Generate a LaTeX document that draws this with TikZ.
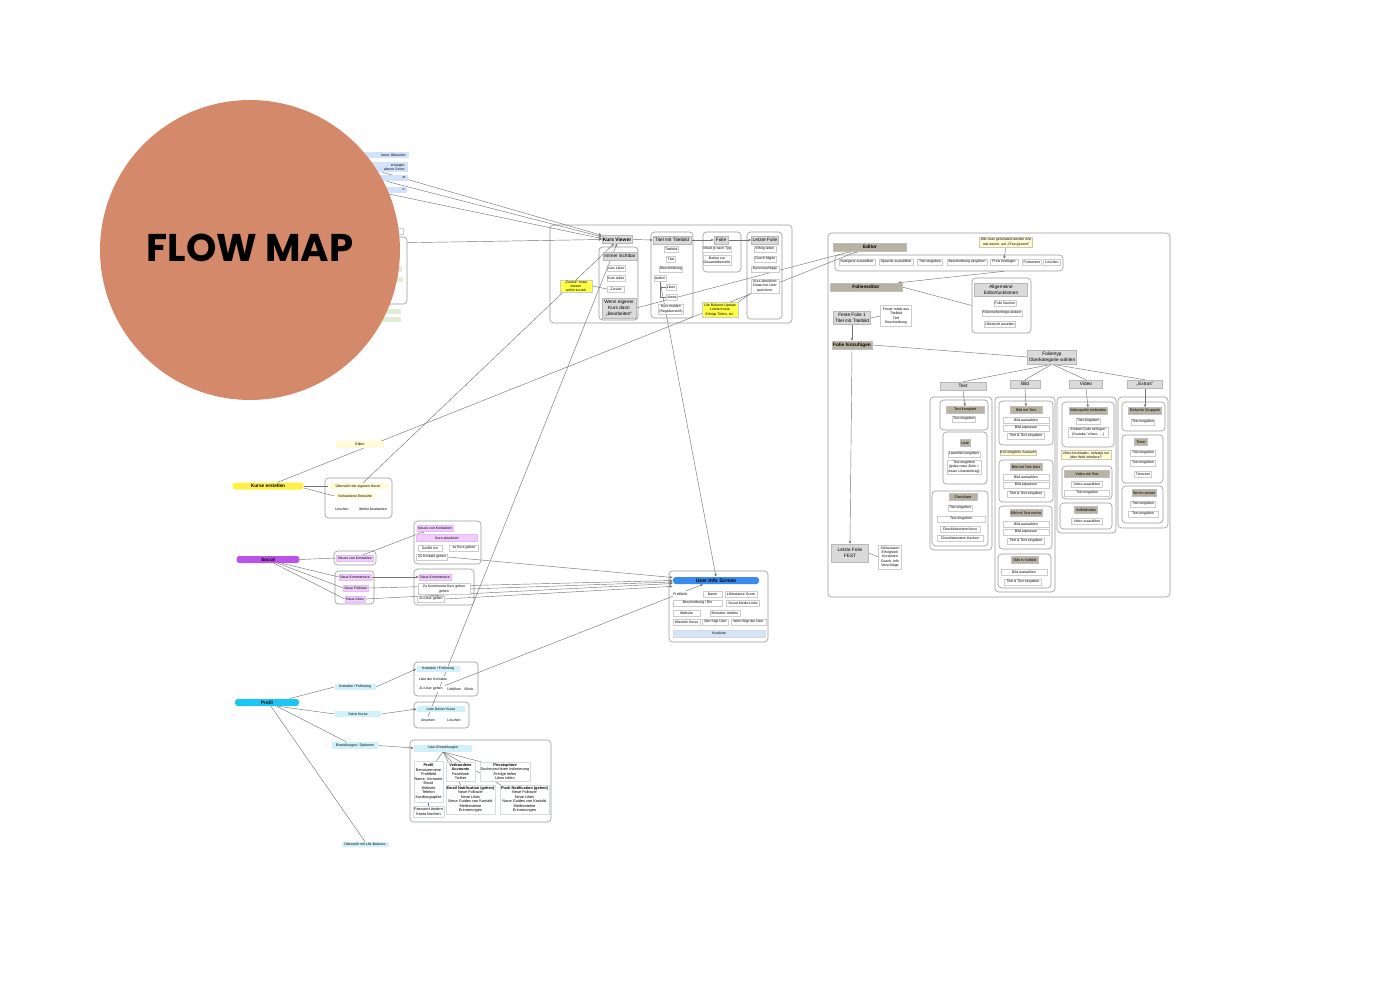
\documentclass[tikz,border=0pt]{standalone}
\usepackage{fontspec}
\setmainfont{Liberation Sans}
\newfontfamily\flowfont{Poppins}
\usetikzlibrary{arrows.meta,calc,fit}
\pgfdeclarelayer{bg}
\pgfsetlayers{bg,main}
\definecolor{circlecol}{RGB}{212,137,106}
\definecolor{boxgray}{RGB}{218,218,218}
\definecolor{taupe}{RGB}{184,178,163}
\definecolor{noteyellow}{RGB}{255,251,215}
\definecolor{hiyellow}{RGB}{255,255,70}
\definecolor{kursyellow}{RGB}{255,240,70}
\definecolor{socialpurple}{RGB}{186,84,232}
\definecolor{lightpurple}{RGB}{240,205,250}
\definecolor{profilcyan}{RGB}{28,198,242}
\definecolor{lightcyan}{RGB}{208,240,251}
\definecolor{uisblue}{RGB}{58,138,240}
\definecolor{kurslblue}{RGB}{214,228,249}
\definecolor{topblue}{RGB}{210,226,250}
\definecolor{lightgreen}{RGB}{224,237,214}
\newlength\pxl
\setlength\pxl{0.02cm}
\tikzset{
  every node/.style={font=\fontsize{2}{2.4}\selectfont, align=center, inner sep=0.4pt},
  wd/.style={minimum width=#1\pxl},
  ht/.style={minimum height=#1\pxl},
  item/.style={draw=black!20, fill=white, line width=0.2pt, minimum height=6\pxl},
  bare/.style={fill=white, minimum height=6\pxl},
  grayhead/.style={draw=black!28, fill=boxgray, line width=0.25pt, font=\fontsize{2.7}{3.2}\selectfont, minimum height=8\pxl},
  dark/.style={fill=taupe, draw=black!25, line width=0.2pt, font=\fontsize{2.1}{2.5}\selectfont, minimum height=7\pxl},
  bighead/.style={dark, font=\fontsize{2.7}{3.2}\selectfont\bfseries, minimum height=8\pxl},
  note/.style={fill=noteyellow, draw=noteyellow!80!black, line width=0.15pt, minimum height=6\pxl},
  hinote/.style={fill=hiyellow, draw=black!20, line width=0.2pt},
  pill/.style={rounded corners=1.6pt, minimum height=7\pxl, font=\fontsize{2.7}{3.2}\selectfont\bfseries},
  lp/.style={fill=lightpurple, draw=socialpurple!40, line width=0.15pt, minimum height=6\pxl},
  lc/.style={fill=lightcyan, minimum height=6\pxl},
  sblock/.style={draw=lightcyan!70!black!40, fill=white, line width=0.2pt, font=\fontsize{2.2}{2.6}\selectfont},
  bluebar/.style={fill=topblue, minimum height=6\pxl},
  greenbar/.style={fill=lightgreen, minimum height=5\pxl},
  cont/.style={draw=black!40, line width=0.35pt, rounded corners=2pt},
  link/.style={draw=black!55, line width=0.25pt},
  arr/.style={link, -{Stealth[length=1.8pt,width=1.5pt]}},
}
\begin{document}
\begin{tikzpicture}[x=0.02cm, y=-0.02cm]
\useasboundingbox (0,0) rectangle (1400,1000);

% items behind the circle
\node[bluebar, anchor=east, text width=44\pxl, align=right, inner xsep=3\pxl] (lb1) at (409,155) {lance Übersicht};
\node[bluebar, anchor=east, text width=44\pxl, align=right, inner xsep=3\pxl, ht=10] (lb2) at (408,167) {ertungen\hspace*{10\pxl}\\alance Score};
\node[bluebar, anchor=east, text width=38\pxl, align=right, inner xsep=2\pxl] (lb3) at (408,178) {er\hspace*{21\pxl}};
\node[bluebar, anchor=east, text width=38\pxl, align=right, inner xsep=2\pxl] (lb4) at (407,190) {n\hspace*{17\pxl}};
\node[cont, fit={(370,237) (407,304)}, inner sep=0pt] (hb) {};
\node[item, wd=6] (hbn) at (400,231) {};
\node[greenbar, wd=8] (hg1) at (398,270) {};
\node[greenbar, wd=8] (hg2) at (399,280) {};
\node[greenbar, wd=24] (hg3) at (389,312) {};
\node[greenbar, wd=24] (hg4) at (389,320) {};

% Kurs Viewer
\node[grayhead, wd=30, font=\fontsize{2.8}{3.3}\selectfont\bfseries] (kv) at (617,239.5) {Kurs Viewer};
\node[grayhead, wd=34] (ims) at (620,256) {Immer sichtbar};
\node[item, wd=17] (klike) at (616,268) {Kurs Liken};
\node[item, wd=17] (kteil) at (616,278) {Kurs teilen};
\node[item, wd=17] (zur) at (616,289) {„Zurück“};
\node[grayhead, wd=34, ht=20] (weig) at (619,308) {Wenn eigener\\Kurs dann\\„Bearbeiten“};
\node[hinote, wd=32, ht=12] (zurn) at (576,286) {„Zurück“ muss\\wissen\\wohin zurück};
\node[grayhead, wd=38] (tmt) at (672,240) {Titel mit Titelbild};
\node[item, wd=14] (tb) at (671,249) {Titelbild};
\node[item, wd=9] (tit) at (671,259) {Titel};
\node[item, wd=20] (besch) at (671,269) {Beschreibung};
\node[item, wd=12] (au) at (660,278) {Author};
\node[item, wd=10] (lk) at (671,287) {Likes};
\node[item, wd=11] (vw) at (672,297) {Views};
\node[item, wd=25, ht=10] (km) at (671,309) {Kurs melden\\(Regelverstoß)};
\node[grayhead, wd=14] (fol) at (721,240) {Folie};
\node[item, wd=28] (inh) at (717,249) {Inhalt je nach Typ};
\node[item, wd=26, ht=10] (btn) at (717,260) {Button zur\\Gesamtübersicht};
\node[grayhead, wd=27] (lf) at (765,240) {Letzte Folie};
\node[item, wd=22] (et) at (765,249) {Erfolg teilen};
\node[item, wd=22] (cf) at (765,259) {Coach folgen};
\node[item, wd=28] (kvs) at (765,269) {Kursvorschläge};
\node[item, wd=28, ht=14] (kab) at (765,286) {Kurs absolviert\\Daten bei User\\speichern.};
\node[hinote, wd=36, ht=15] (lbu) at (720,310) {Life Balance Update\\Letzte Kurse\\Erfolge Teilen, etc.};

% Editor
\node[bighead, wd=73] (ed) at (870,247) {Editor};
\node[item, wd=36] (kat) at (857,262) {Kategorie auswählen};
\node[item, wd=34] (spr) at (896,262) {Sprache auswählen};
\node[item, wd=25] (tein) at (930,262) {Titel eingeben};
\node[item, wd=40] (bein) at (967,262) {Beschreibung eingeben};
\node[item, wd=28] (preis) at (1004,262) {Preis festlegen};
\node[item, wd=19] (fort) at (1032,262) {Fortsetzen};
\node[item, wd=17] (loe) at (1052,262) {Löschen};
\node[note, wd=53, ht=10] (afree) at (1006,242) {Alle User generated werden erst\\mal autom. auf „Free gesetzt“};
\node[bighead, wd=72] (fe) at (866,287) {Folieneditor};
\node[grayhead, wd=53, ht=13] (aeft) at (1001,290) {Allgemeine\\Editorfunktionen};
\node[item, wd=20] (fl) at (1005,303) {Folie löschen};
\node[item, wd=38] (frf) at (1002,313) {Folienreihenfolge ändern};
\node[item, wd=27] (uea) at (1000,324) {Übersicht ansehen};
\node[grayhead, wd=37, ht=13] (ff) at (852,318) {Feste Folie 1\\Titel mit Titelbild};
\node[item, wd=31, ht=21] (fia) at (896,316) {Fester Inhalt aus\\Titelbild\\Titel\\Beschreibung};
\node[bighead, wd=40] (fh) at (852,345) {Folie hinzufügen};
\node[grayhead, wd=37, ht=18] (lff) at (850,553) {Letzte Folie\\FEST};
\node[item, wd=23, ht=24] (sw) at (890,557) {Schlusswort\\Erfolgreich\\Kurslisten\\Coach- Info\\Vorschläge};
\node[grayhead, wd=49, ht=14] (ft) at (1052,357) {Folientyp\\Oberkategorie wählen};
\node[grayhead, wd=46] (ctext) at (963,386) {Text};
\node[grayhead, wd=30] (cbild) at (1025,384) {Bild};
\node[grayhead, wd=33] (cvid) at (1086,384) {Video};
\node[grayhead, wd=35] (cext) at (1145,384) {„Extras“};

% Text
\node[dark, wd=38] (tk) at (965,410) {Text komplett};
\node[item, wd=22] (tk1) at (964,419) {Text eingeben};
\node[dark, wd=10] (li) at (965,443) {Liste};
\node[item, wd=32] (li1) at (964,454) {Listentitel eingeben};
\node[item, wd=34, ht=14] (li2) at (964,467) {Text eingeben\\(jedes neue Zeile =\\neuer Listeneintrag)};
\node[dark, wd=28] (cl) at (963,497) {Checkliste};
\node[item, wd=22] (cl1) at (960,508) {Titel eingeben};
\node[item, wd=48] (cl2) at (961,519) {Text eingeben};
\node[item, wd=40] (cl3) at (960,529) {Checklistenitem hinzu};
\node[item, wd=46] (cl4) at (960,538) {Checklistenitem löschen};
% Bild
\node[dark, wd=32] (b1) at (1026,410) {Bild mit Text};
\node[item, wd=46] (b11) at (1026,420) {Bild auswählen};
\node[item, wd=46] (b12) at (1026,428) {Bild anpassen};
\node[item, wd=37] (b13) at (1026,436) {Titel \& Text eingeben};
\node[note, wd=35, ht=5] (evtl) at (1018,453) {Evtl mögliche Auswahl};
\node[dark, wd=32] (b2) at (1026,467) {Bild mit Text links};
\node[item, wd=46] (b21) at (1026,477) {Bild auswählen};
\node[item, wd=46] (b22) at (1026,485) {Bild anpassen};
\node[item, wd=37] (b23) at (1026,494) {Titel \& Text eingeben};
\node[dark, wd=32] (b3) at (1026,513) {Bild mit Text rechts};
\node[item, wd=46] (b31) at (1026,524) {Bild auswählen};
\node[item, wd=46] (b32) at (1026,532) {Bild anpassen};
\node[item, wd=37] (b33) at (1026,541) {Titel \& Text eingeben};
\node[dark, wd=27] (b4) at (1025,560) {Bild in Vollbild};
\node[item, wd=46] (b41) at (1024,572) {Bild auswählen};
\node[item, wd=37] (b42) at (1023,582) {Titel \& Text eingeben};
% Video
\node[dark, wd=38] (v1) at (1088,411) {Videoquelle einbinden};
\node[item, wd=24] (v11) at (1088,421) {Titel eingeben};
\node[item, wd=40, ht=10] (v12) at (1088,432) {Embed Code einfügen\\(Youtube, Vimeo, …)};
\node[note, wd=50, ht=9] (vh) at (1086,455) {Video hochladen: anfangs nur\\über Web interface?};
\node[dark, wd=45] (v2) at (1087,474) {Video mit Text};
\node[item, wd=31] (v21) at (1087,484) {Video auswählen};
\node[item, wd=45] (v22) at (1087,493) {Text eingeben};
\node[dark, wd=23] (v3) at (1086,510) {Vollbildvideo};
\node[item, wd=31] (v31) at (1087,521) {Video auswählen};
% Extras
\node[dark, wd=33] (e1) at (1145,411) {Einfache Stoppuhr};
\node[item, wd=23] (e11) at (1143,422) {Text eingeben};
\node[dark, wd=13] (e2) at (1141,442) {Timer};
\node[item, wd=25] (e21) at (1143,453) {Titel eingeben};
\node[item, wd=25] (e22) at (1143,463) {Text eingeben};
\node[item, wd=17] (e23) at (1143,474) {Timerzeit};
\node[dark, wd=24] (e3) at (1144,493) {Termin setzen};
\node[item, wd=25] (e31) at (1143,504) {Titel eingeben};
\node[item, wd=30] (e32) at (1143,514) {Text eingeben};

% Kurse erstellen
\node[note, draw=none, wd=48, ht=7] (edl) at (360,444) {Editor};
\node[pill, fill=kursyellow, wd=71] (ke) at (268,486) {Kurse erstellen};
\node[note, draw=none, wd=59] (ued) at (358,486) {Übersicht der eigenen Kurse};
\node[note, draw=none, wd=41] (ve) at (355,496) {Vorhandene Entwürfe};
\node[bare, wd=15] (kl2) at (342,509) {Löschen};
\node[bare, wd=28] (wb) at (373,509) {Weiter bearbeiten};

% Social
\node[pill, fill=socialpurple, wd=63] (soc) at (268,559.5) {Social};
\node[lp, wd=37] (nvk) at (355,558) {Neues von Kontakten};
\node[lp, wd=32] (nk) at (355,577) {Neue Kommentare};
\node[lp, wd=25] (nf) at (356,588) {Neue Follower};
\node[lp, wd=20] (nl) at (355,599) {Neue Likes};
\node[lp, wd=36] (rnvk) at (435,528) {Neues von Kontakten};
\node[lp, wd=61, ht=7] (kab2) at (447,538) {Kurs absolviert};
\node[item, wd=24] (gm) at (430,548) {Gefällt mir};
\node[item, wd=29] (zkg) at (464,548) {zu Kurs gehen};
\node[item, wd=31] (zkt) at (432,557) {Zu Kontakt gehen};
\node[lp, wd=32] (rnk) at (435,577) {Neue Kommentare};
\node[item, wd=52, ht=11] (zkk) at (444,589) {Zu Kommentar Kurs gehen\\gehen};
\node[item, wd=27] (zug) at (431,599) {Zu User gehen};

% Profil
\node[pill, fill=profilcyan, wd=64] (prof) at (267,702.5) {Profil};
\node[lc, wd=41] (kf) at (355,687) {Kontakte / Following};
\node[lc, wd=46] (sk) at (358,714) {Seine Kurse};
\node[lc, wd=46, ht=7] (eo) at (355,745.5) {Einstellungen / Optionen};
\node[lc, wd=47, ht=5] (ulb) at (365,844.5) {Übersicht mit Life-Balance};
\node[lc, wd=43] (rkf) at (438,669) {Kontakte / Following};
\node[bare, wd=31] (ldk) at (433,679) {Liste der Kontakte};
\node[bare, wd=27] (zug2) at (431,689) {Zu User gehen};
\node[bare, wd=16] (unf) at (454,689) {Unfollow};
\node[bare, wd=11] (blk) at (469,689) {Block};
\node[lc, wd=48] (ldku) at (441,709) {Liste Deiner Kurse};
\node[bare, wd=21] (ans) at (428,720) {Ansehen};
\node[bare, wd=22] (lsch) at (454,720) {Löschen};
\node[lc, wd=58, ht=7] (ue) at (443,748) {User-Einstellungen};
\node[sblock, wd=29, ht=41] (sp) at (428.5,781.5) {\textbf{Profil}\\Benutzername\\Profilbild\\Name, Vorname\\Email\\Website\\Telefon\\Kurzbiographie};
\node[sblock, wd=29, ht=11] (spw) at (428.5,811.5) {Passwort ändern\\Konto löschen};
\node[sblock, wd=29, ht=19] (sva) at (460.5,771.5) {\textbf{Verbundene}\\\textbf{Accounts}\\Facebook\\Twitter};
\node[sblock, wd=50, ht=19] (sps) at (505,771.5) {\textbf{Privatsphäre}\\Suchmaschinen Indexierung\\Erfolge teilen\\Likes teilen};
\node[sblock, wd=49, ht=29] (sen) at (470.5,799.5) {\textbf{Email Notification (gehen)}\\Neue Follower\\Neue Likes\\Neue Guides von Kontakt\\Meilensteine\\Erinnerungen};
\node[sblock, wd=49, ht=29] (spn) at (524.5,799.5) {\textbf{Push Notification (gehen)}\\Neue Follower\\Neue Likes\\Neue Guides von Kontakt\\Meilensteine\\Erinnerungen};

% User Info Screen
\node[pill, fill=uisblue, wd=86, font=\fontsize{2.9}{3.3}\selectfont\bfseries] (uis) at (716,580.5) {User Info Screen};
\node[bare, wd=15] (upb) at (680,594) {Profilbild};
\node[item, wd=19] (unm) at (712.5,594) {Name};
\node[item, wd=32] (uls) at (741,594) {Lifebalance Score};
\node[item, wd=49] (ubb) at (697.5,603) {Beschreibung / Bio};
\node[item, wd=33] (usm) at (743,603) {Social Media Links};
\node[item, wd=27] (uweb) at (686.5,613) {Website};
\node[item, wd=30] (ubm) at (725,613) {Benutzer melden};
\node[item, wd=27] (uwk) at (686.5,622) {Wieviele Kurse};
\node[item, wd=26] (uwf) at (715.5,622) {Wer folgt User};
\node[item, wd=35] (uwd) at (748.5,622) {Wem folgt der User};
\node[fill=kurslblue, draw=black!15, line width=0.15pt, wd=92, ht=7] (ukl) at (719,633.5) {Kursliste};

\begin{pgfonlayer}{bg}
% boxes
\draw[cont] (550,225) rectangle (792,323);
\draw[cont] (599,247) rectangle (638,320);
\draw[cont] (651,232) rectangle (693,318);
\draw[cont] (703,232) rectangle (741,272);
\draw[cont] (747,232) rectangle (782,319);
\draw[cont] (828,233) rectangle (1170,597);
\node[cont, fit={(835,255) (1063,271)}, inner sep=0pt] (edrow) {};
\node[cont, fit={(972,278) (1031,333)}, inner sep=0pt] (aefbox) {};
\draw[cont] (930,397) rectangle (992,550);
\draw[cont] (995,397) rectangle (1055,592);
\draw[cont] (1057,397) rectangle (1116,533);
\draw[cont] (1118,397) rectangle (1168,528);
\draw[cont] (940,400) rectangle (988,430);
\draw[cont] (943,432) rectangle (987,484);
\draw[cont] (932,491) rectangle (988,546);
\draw[cont] (999,401) rectangle (1053,445);
\draw[cont] (999,460) rectangle (1053,502);
\draw[cont] (999,506) rectangle (1052,549);
\draw[cont] (998,554) rectangle (1051,588);
\draw[cont] (1062,402) rectangle (1114,447);
\draw[cont] (1062,466) rectangle (1112,499);
\draw[cont] (1060,503) rectangle (1112,529);
\draw[cont] (1122,402) rectangle (1165,431);
\draw[cont] (1122,435) rectangle (1163,483);
\draw[cont] (1122,486) rectangle (1163,523);
\draw[cont] (325,478) rectangle (392,518);
\draw[cont] (334,551) rectangle (376,565);
\draw[cont] (335,571) rectangle (374,604);
\draw[cont] (414,521) rectangle (481,564);
\draw[cont] (414,569) rectangle (474,605);
\draw[cont] (414,662) rectangle (478,696);
\draw[cont] (414,702) rectangle (469,728);
\draw[cont] (410,740) rectangle (551,822);
\draw[cont] (669,571) rectangle (768,642);

% to Kurs Viewer
\draw[arr] (lb2.south) -- (kv.north west);
\draw[arr] (lb3.south) -- ($(kv.north west)+(0,1.5)$);
\draw[arr] (lb4.south) -- ($(kv.west)+(0,-1)$);
\draw[arr] ($(hb.north east)+(0,6)$) -- (kv.west);
\draw[arr] ($(ued.north)+(5,0)$) -- ($(kv.south)+(-3,0)$);
\draw[arr] (ans.north) -- (kv.south);
\draw[link] (zurn.east) -- (zur.west);
\draw[arr] (kv.east) -- (tmt.west);
\draw[arr] (tmt.east) -- (fol.west);
\draw[arr] (fol.east) -- (lf.west);
\draw[link] (au.south) |- (lk.west);
\draw[link] (au.south) |- (vw.west);
\draw[arr] (au.south) -- (uis.north);
\draw[link] (kab.south west) -- (lbu.north east);

% to Editor
\draw[arr] (weig.east) -- ($(ed.south)+(-18,0)$);
\draw[arr] ($(ke.north)+(10,0)$) -- ($(ed.south)+(-12,0)$);
\draw[arr] (afree.south) -- (preis.north);
\draw[arr] (edrow.south -| preis) -- ($(fe.north east)+(-4,0)$);
\draw[link] (fe.east) -- (aefbox.west);
\draw[link] (ff.east) -- (fia.west);
\draw[arr] (ff.south) -- (fh.north);
\draw[arr] (fh.south) -- (lff.north);
\draw[link] (lff.east) -- (sw.west);
\draw[link] (fh.east) -- (ft.west);
\foreach \c/\f in {ctext/tk, cbild/b1, cvid/v1, cext/e1} {
  \draw[link] (ft.south) -- (\c.north);
  \draw[arr] (\c.south) -- (\f.north);
}

% Kurse erstellen, Social
\draw[link] (ke.east) -- (ued.west);
\draw[link] ($(ke.east)+(0,2)$) -- (ve.west);
\draw[link] (soc.east) -- (nvk.west);
\draw[link] ($(soc.south)+(14,0)$) -- (nk.west);
\draw[link] ($(soc.south)+(10,0)$) -- (nf.west);
\draw[link] ($(soc.south)+(6,0)$) -- (nl.west);
\draw[arr] ($(nvk.north)+(8,0)$) -- ($(rnvk.south)+(-10,0)$);
\draw[arr] (nk.east) -- (rnk.west);
\draw[arr] (zkt.east) -- ($(uis.west)+(0,-3)$);
\draw[arr] (nf.east) -- (uis.west);
\draw[arr] (zkk.east) -- ($(uis.west)+(0,1.5)$);
\draw[arr] (nl.east) -- ($(uis.west)+(0,3)$);
\draw[arr] (zug.east) -- ($(uis.south west)+(0,2)$);

% Profil
\draw[link] ($(prof.north east)+(-10,0)$) -- (kf.west);
\draw[link] ($(prof.south east)+(-21,0)$) -- (sk.west);
\draw[link] ($(prof.south)+(10,0)$) -- ($(eo.north)+(-9,0)$);
\draw[link] ($(prof.south)+(4,0)$) -- (ulb.north);
\draw[arr] (kf.east) -- (rkf.west);
\draw[arr] (sk.east) -- (ldku.west);
\draw[arr] (eo.east) -- (ue.west);
\draw[arr] (zug2.north east) -- ($(uis.south)+(-13,0)$);
\foreach \t/\o in {sp/8, sva/-9, sps/-24, sen/-10, spn/-24}
  \draw[link] (ue.south) -- ($(\t.north)+(\o,0)$);
\draw[link] (sp.south) -- (spw.north);
\end{pgfonlayer}

% title circle
\fill[circlecol] (250,250) circle[radius=3cm];
\node[font={\flowfont\bfseries\fontsize{22}{26}\selectfont}] (title) at (250,248) {FLOW MAP};
\end{tikzpicture}
\end{document}
